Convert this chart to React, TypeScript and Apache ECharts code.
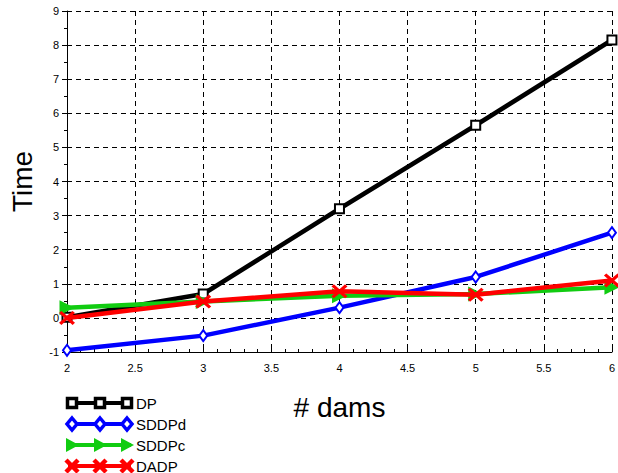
import React, { useEffect, useRef } from "react";
import * as echarts from "echarts";

const xValues = [2, 3, 4, 5, 6];
const seriesNames = ["DP", "SDDPd", "SDDPc", "DADP"];
const dpValues = [0.02, 0.7, 3.2, 5.65, 8.15];
const sddpdValues = [-0.95, -0.52, 0.3, 1.2, 2.5];
const sddpcValues = [0.3, 0.48, 0.65, 0.7, 0.9];
const dadpValues = [0.0, 0.48, 0.78, 0.68, 1.1];

const crossPath =
  "path://M0,3 L3,0 L10,7 L17,0 L20,3 L13,10 L20,17 L17,20 L10,13 L3,20 L0,17 L7,10 Z";

export default function App() {
  const ref = useRef<HTMLDivElement>(null);
  useEffect(() => {
    if (!ref.current) return;
    const chart = echarts.init(ref.current, null, { renderer: "svg" });
    const values = [dpValues, sddpdValues, sddpcValues, dadpValues];
    const colors = ["#000000", "#0000ff", "#11cc11", "#ff0000"];
    const symbols = ["emptyRect", "emptyDiamond", "triangle", crossPath];
    const sizes: any[] = [9, [8, 11], 15, [16, 14]];
    const rotates = [0, 0, -90, 0];

    const series = seriesNames.map((name, i) => ({
      name,
      type: "line",
      data: xValues.map((x, j) => [x, values[i][j]]),
      symbol: symbols[i],
      symbolSize: sizes[i],
      symbolRotate: rotates[i],
      showAllSymbol: true,
      clip: true,
      lineStyle: { color: colors[i], width: 4.5 },
      itemStyle: { color: colors[i], borderColor: colors[i], borderWidth: i < 2 ? 3.5 : 0 },
      z: 2 + i,
    }));

    const legendGraphics: any[] = [];
    const legendYs = [403, 424, 445, 466];
    const markerXs = [72, 100, 127];
    seriesNames.forEach((name, i) => {
      const y = legendYs[i];
      const c = colors[i];
      legendGraphics.push({
        type: "line",
        shape: { x1: 68, y1: y, x2: 131, y2: y },
        style: { stroke: c, lineWidth: 4 },
      });
      markerXs.forEach((mx) => {
        if (i === 0) {
          legendGraphics.push({
            type: "rect",
            shape: { x: mx - 4.5, y: y - 4.5, width: 9, height: 9 },
            style: { fill: "#fff", stroke: c, lineWidth: 3.5 },
          });
        } else if (i === 1) {
          legendGraphics.push({
            type: "polygon",
            shape: { points: [[mx, y - 6], [mx + 5, y], [mx, y + 6], [mx - 5, y]] },
            style: { fill: "#fff", stroke: c, lineWidth: 3.5 },
          });
        } else if (i === 2) {
          legendGraphics.push({
            type: "polygon",
            shape: { points: [[mx - 6, y - 7], [mx + 7, y], [mx - 6, y + 7]] },
            style: { fill: c },
          });
        } else {
          legendGraphics.push({
            type: "line",
            shape: { x1: mx - 6, y1: y - 6, x2: mx + 6, y2: y + 6 },
            style: { stroke: c, lineWidth: 4.5 },
          });
          legendGraphics.push({
            type: "line",
            shape: { x1: mx - 6, y1: y + 6, x2: mx + 6, y2: y - 6 },
            style: { stroke: c, lineWidth: 4.5 },
          });
        }
      });
      legendGraphics.push({
        type: "text",
        x: 136,
        y: y,
        style: {
          text: name,
          fill: "#000",
          font: "15px 'Liberation Sans', Arial, sans-serif",
          textVerticalAlign: "middle",
        },
      });
    });

    chart.setOption({
      animation: false,
      backgroundColor: "#ffffff",
      grid: { left: 67, right: 4, top: 11, bottom: 121, containLabel: false },
      xAxis: {
        type: "value",
        min: 2,
        max: 6,
        interval: 0.5,
        name: "# dams",
        nameLocation: "middle",
        nameGap: 41,
        nameTextStyle: { fontSize: 28, color: "#000", fontFamily: "'Liberation Sans', Arial" },
        axisLine: { onZero: false, lineStyle: { color: "#000", width: 1 } },
        axisTick: { inside: true, length: 6, lineStyle: { color: "#000" } },
        minorTick: { show: true, splitNumber: 5, length: 3, lineStyle: { color: "#000" } },
        axisLabel: {
          color: "#000",
          fontSize: 11,
          fontFamily: "'Liberation Sans', Arial",
          margin: 10,
          formatter: (v: number) => String(v),
        },
        splitLine: { show: true, lineStyle: { color: "#000", type: [5, 4], width: 1 } },
      },
      yAxis: {
        type: "value",
        min: -1,
        max: 9,
        interval: 1,
        name: "Time",
        nameLocation: "middle",
        nameGap: 31,
        nameRotate: 90,
        nameTextStyle: { fontSize: 28, color: "#000", fontFamily: "'Liberation Sans', Arial" },
        axisLine: { show: true, onZero: false, lineStyle: { color: "#000", width: 1 } },
        axisTick: { show: true, length: 5, lineStyle: { color: "#000" } },
        minorTick: { show: true, splitNumber: 2, length: 3, lineStyle: { color: "#000" } },
        axisLabel: { color: "#000", fontSize: 11, fontFamily: "'Liberation Sans', Arial", margin: 8 },
        splitLine: { show: true, lineStyle: { color: "#000", type: [5, 4], width: 1 } },
      },
      series,
      graphic: legendGraphics,
    });
    return () => chart.dispose();
  }, []);
  return <div ref={ref} style={{ width: 618, height: 473, position: "absolute", left: 0, top: 0 }} />;
}
